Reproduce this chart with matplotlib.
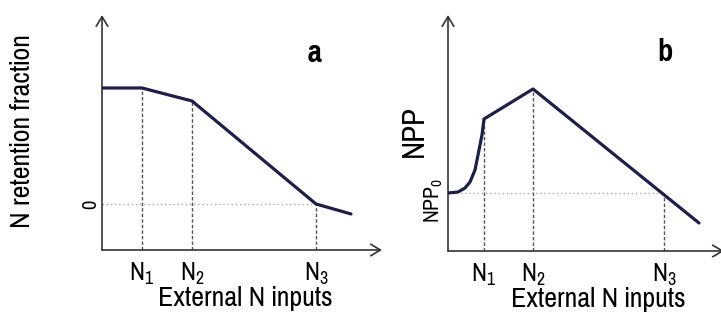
import matplotlib
matplotlib.use("Agg")
import matplotlib.pyplot as plt

FONT = 'Pragati Narrow'
plt.rcParams['font.family'] = [FONT, 'DejaVu Sans']
plt.rcParams['mathtext.fontset'] = 'custom'
plt.rcParams['mathtext.rm'] = FONT
plt.rcParams['mathtext.it'] = FONT
plt.rcParams['mathtext.default'] = 'rm'

# ---- data (panel a) ----
a_x = [0, 40, 90, 214, 249]             # external N inputs
a_y = [1.0, 1.0, 0.888, 0.0, -0.086]    # N retention fraction
a_breaks = [40, 90, 214]                # N1, N2, N3
a_break_y = [1.0, 0.888, 0.0]
a_zero = 0.0

# ---- data (panel b) ----
b_x = [0, 10, 17, 22, 27, 30, 34, 36, 85, 251]
b_y = [58, 59, 63, 69, 81, 96, 116, 132, 162, 28]
b_breaks = [36, 85, 216]
b_break_y = [132, 162, 58]
b_npp0 = 58

n_labels = ['N$_1$', 'N$_2$', 'N$_3$']
xlabel = 'External N inputs'

LINE = '#1e1e4c'
AX = '#333333'

fig = plt.figure(figsize=(7.21, 3.2), dpi=100)
W, H = 721.0, 320.0

axa = fig.add_axes([102 / W, (H - 250) / H, 283 / W, 238 / H])
axb = fig.add_axes([448 / W, (H - 251) / H, 273 / W, 239 / H])

axa.set_xlim(0, 283)
axa.set_ylim(-0.3966, 1.655)
axb.set_xlim(0, 273)
axb.set_ylim(0, 239)

arrow = dict(arrowstyle='->,head_length=0.5,head_width=0.3', lw=1.2,
             color=AX, mutation_scale=14, shrinkA=0, shrinkB=0)

for ax, ytop, xend in [(axa, 1.629, 280), (axb, 236, 276)]:
    for s in ax.spines.values():
        s.set_visible(False)
    y0 = ax.get_ylim()[0]
    ax.annotate('', xy=(0, ytop), xytext=(0, y0), arrowprops=arrow,
                annotation_clip=False)
    ax.annotate('', xy=(xend, y0), xytext=(0, y0), arrowprops=arrow,
                annotation_clip=False)
    ax.set_xticks([])
    ax.set_yticks([])

# panel a
axa.plot(a_x, a_y, color=LINE, lw=2.3, solid_capstyle='round', solid_joinstyle='round', zorder=3)
y0a = axa.get_ylim()[0]
for xb, yb in zip(a_breaks, a_break_y):
    axa.plot([xb, xb], [y0a, yb], color='#555555', lw=1.0, ls=(0, (2.5, 1.5)), zorder=2)
axa.plot([0, a_breaks[2]], [a_zero, a_zero], color='#aaaaaa', lw=1.0, ls=(0, (1, 2)), zorder=2)
axa.set_xticks(a_breaks, n_labels)
axa.set_yticks([a_zero], ['0'])
axa.tick_params(axis='x', length=0, pad=8, labelsize=20)
axa.tick_params(axis='y', length=0, pad=1.5, labelsize=16, labelrotation=90)
for t in axa.get_yticklabels():
    t.set_va('center')
axa.set_xlabel(xlabel, fontsize=22)
axa.xaxis.set_label_coords(0.505, -0.15)
axa.set_ylabel('N retention fraction', fontsize=22)
axa.yaxis.set_label_coords(-0.237, 0.5)
axa.text(213, 1.30, 'a', fontsize=24, fontweight='bold', ha='center', va='center')

# panel b
axb.plot(b_x, b_y, color=LINE, lw=2.3, solid_capstyle='round', solid_joinstyle='round', zorder=3)
for xb, yb in zip(b_breaks, b_break_y):
    axb.plot([xb, xb], [0, yb], color='#555555', lw=1.0, ls=(0, (2.5, 1.5)), zorder=2)
axb.plot([0, b_breaks[2]], [b_npp0, b_npp0], color='#aaaaaa', lw=1.0, ls=(0, (1, 2)), zorder=2)
axb.set_xticks(b_breaks, n_labels)
axb.tick_params(axis='x', length=0, pad=8, labelsize=20)
axb.annotate('NPP$_0$', xy=(0, b_npp0), xytext=(-2, -5), textcoords='offset points',
             rotation=90, ha='right', va='center', fontsize=17, annotation_clip=False)
axb.set_xlabel(xlabel, fontsize=22)
axb.xaxis.set_label_coords(0.55, -0.15)
axb.set_ylabel('NPP', fontsize=24)
axb.yaxis.set_label_coords(-0.073, 0.50)
axb.text(217, 199, 'b', fontsize=24, fontweight='bold', ha='center', va='center')

fig.savefig('out.png', dpi=100)
